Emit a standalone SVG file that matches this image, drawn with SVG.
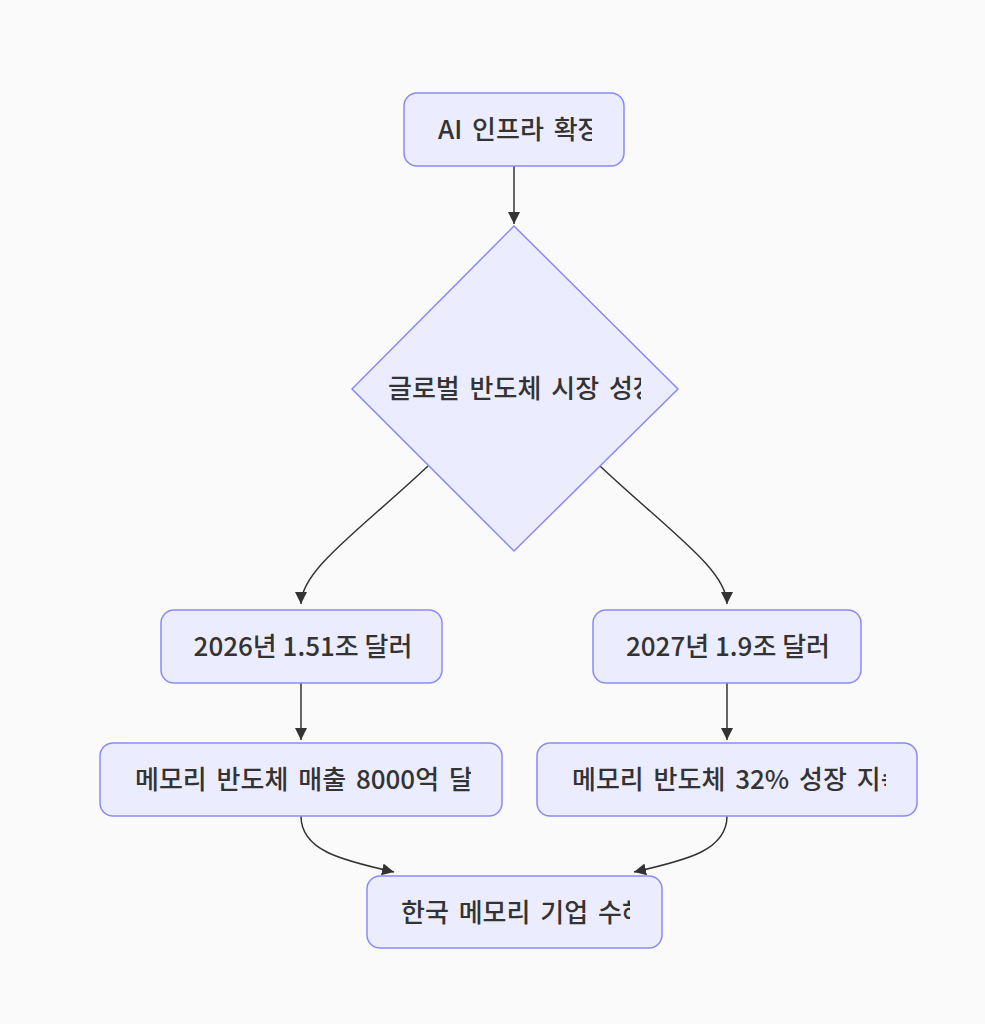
<svg xmlns="http://www.w3.org/2000/svg" width="985" height="1024" viewBox="0 0 985 1024">
<style>
.node{fill:#ECECFF;stroke:#8A8AF5;stroke-width:1.5}
.lbl{font-family:"Noto Sans CJK KR","Noto Sans",sans-serif;font-size:26px;font-weight:500;fill:#333}
.ws{word-spacing:4px}
.edge{fill:none;stroke:#333;stroke-width:1.5}
</style>
<defs>
<marker id="arr" markerUnits="userSpaceOnUse" viewBox="0 0 10 10" refX="10" refY="5" markerWidth="12" markerHeight="12" orient="auto">
<path d="M0,0 L10,5 L0,10 z" fill="#333"/>
</marker>
<clipPath id="cA"><rect x="404" y="93" width="188" height="73"/></clipPath>
<clipPath id="cB"><rect x="352" y="360" width="289" height="60"/></clipPath>
<clipPath id="cE"><rect x="100" y="743" width="371" height="73"/></clipPath>
<clipPath id="cF"><rect x="537" y="743" width="349" height="73"/></clipPath>
<clipPath id="cG"><rect x="367" y="876" width="263" height="72"/></clipPath>
</defs>
<rect x="0" y="0" width="985" height="1024" fill="#FAFAFA"/>
<g id="edges">
<path class="edge" d="M514,166 L514,224" marker-end="url(#arr)"/>
<path class="edge" d="M428,466 C360,530 301,570 301,604" marker-end="url(#arr)"/>
<path class="edge" d="M600,466 C668,530 727,570 727,604" marker-end="url(#arr)"/>
<path class="edge" d="M301,683 L301,740" marker-end="url(#arr)"/>
<path class="edge" d="M727,683 L727,740" marker-end="url(#arr)"/>
<path class="edge" d="M301,816 C301,850 340,860 394,872" marker-end="url(#arr)"/>
<path class="edge" d="M727,816 C727,850 688,860 634,872" marker-end="url(#arr)"/>
</g>
<g id="nodeA">
<rect class="node" x="404" y="93" width="220" height="73" rx="13"/>
<text class="lbl ws" x="438" y="139" clip-path="url(#cA)">AI 인프라 확장</text>
</g>
<g id="nodeB">
<polygon class="node" points="514,226 678,389 514,551 352,389"/>
<text class="lbl ws" x="388" y="398" clip-path="url(#cB)">글로벌 반도체 시장 성장</text>
</g>
<g id="nodeC">
<rect class="node" x="161" y="610" width="281" height="73" rx="13"/>
<text class="lbl" x="303" y="656" text-anchor="middle">2026년 1.51조 달러</text>
</g>
<g id="nodeD">
<rect class="node" x="593" y="610" width="268" height="73" rx="13"/>
<text class="lbl" x="728" y="656" text-anchor="middle">2027년 1.9조 달러</text>
</g>
<g id="nodeE">
<rect class="node" x="100" y="743" width="402" height="73" rx="13"/>
<text class="lbl ws" x="135" y="789" clip-path="url(#cE)">메모리 반도체 매출 8000억 달러</text>
</g>
<g id="nodeF">
<rect class="node" x="537" y="743" width="380" height="73" rx="13"/>
<text class="lbl ws" x="572" y="789" clip-path="url(#cF)">메모리 반도체 32% 성장 지속</text>
</g>
<g id="nodeG">
<rect class="node" x="367" y="876" width="295" height="72" rx="13"/>
<text class="lbl ws" x="401" y="922" clip-path="url(#cG)">한국 메모리 기업 수혜</text>
</g>
</svg>
